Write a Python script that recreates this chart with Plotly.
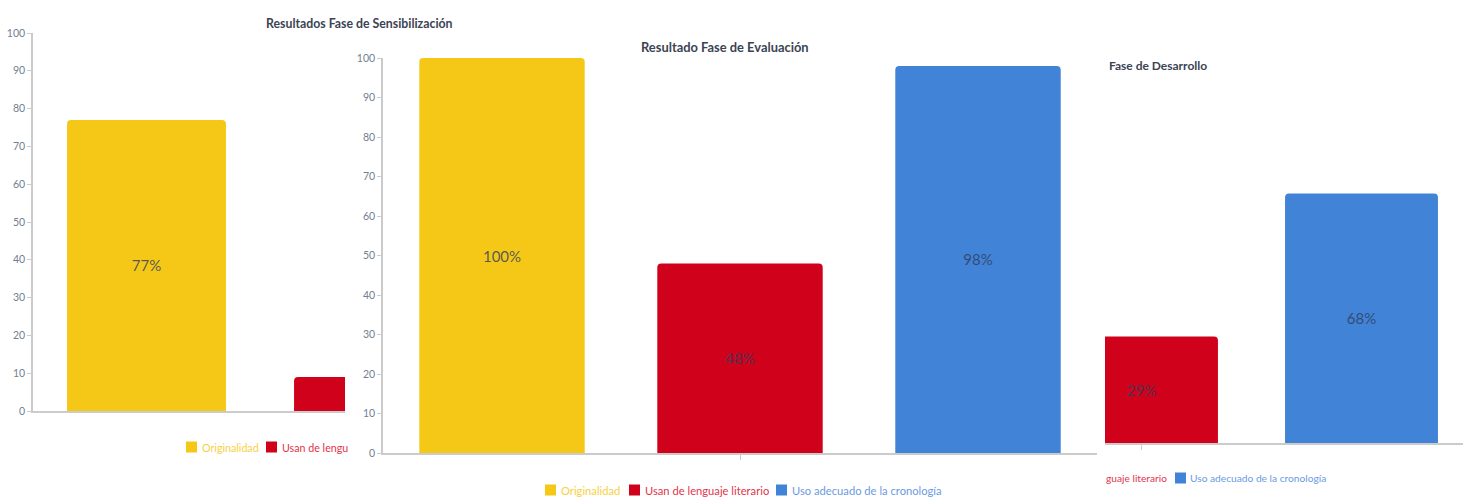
import plotly.graph_objects as go

W, H = 1463, 498

# ---- data -------------------------------------------------------------
categories = ["Originalidad", "Usan de lenguaje literario", "Uso adecuado de la cronología"]
colors = {"Originalidad": "#F5C817",
          "Usan de lenguaje literario": "#D0011B",
          "Uso adecuado de la cronología": "#4183D7"}
legend_text_colors = {"Originalidad": "#F7D043",
                      "Usan de lenguaje literario": "#E2354A",
                      "Uso adecuado de la cronología": "#6A9BE2"}

sens_cats = ["Originalidad", "Usan de lenguaje literario"]
sens_vals = [77, 9]
sens_labels = ["77%", ""]

eval_cats = ["Originalidad", "Usan de lenguaje literario", "Uso adecuado de la cronología"]
eval_vals = [100, 48, 98]
eval_labels = ["100%", "48%", "98%"]

des_cats = ["Usan de lenguaje literario", "Uso adecuado de la cronología"]
des_vals = [29, 68]
des_labels = ["29%", "68%"]

y_ticks = list(range(0, 101, 10))

titles = ["Resultados Fase de Sensibilización", "Resultado Fase de Evaluación", "Fase de Desarrollo"]


def fx(px):
    return px / W


def fy(py):
    return 1 - py / H


FONT = "Lato, 'Open Sans', sans-serif"
LABEL_COLOR = "rgba(50,62,92,0.82)"
AXIS_COLOR = "#cbcbcb"
TICK_FONT_COLOR = "#6f8093"

fig = go.Figure()


def add_bars(cats, vals, labels, xa, ya, width):
    fig.add_trace(go.Bar(
        x=cats, y=vals, text=labels,
        marker=dict(color=[colors[c] for c in cats], line=dict(width=0)),
        width=width,
        textposition="inside", insidetextanchor="middle", textangle=0,
        textfont=dict(family=FONT, size=15, color=LABEL_COLOR),
        xaxis=xa, yaxis=ya, showlegend=False, hoverinfo="skip",
        cliponaxis=True,
    ))


add_bars(sens_cats, sens_vals, sens_labels, "x", "y", 0.70)
add_bars(eval_cats, eval_vals, eval_labels, "x2", "y2", 0.695)
add_bars(des_cats, des_vals, des_labels, "x3", "y3", 0.695)

# panel geometry (pixels): left/right of visible plot, baseline, top (value 100), px per category
panels = {
    "1": dict(left=33, right=345, base=411, top=33, unit=227, x_at_left=-0.5),
    "2": dict(left=383, right=1097, base=453, top=58, unit=238, x_at_left=-0.5),
    "3": dict(left=1105, right=1463, base=443, top=76, unit=220, x_at_left=1 - (1141.5 - 1105) / 220),
}

layout_axes = {}
for key, p in panels.items():
    xname = "xaxis" if key == "1" else f"xaxis{key}"
    yname = "yaxis" if key == "1" else f"yaxis{key}"
    x_end = p["x_at_left"] + (p["right"] - p["left"]) / p["unit"]
    layout_axes[xname] = dict(
        domain=[fx(p["left"]), fx(p["right"])],
        type="category", categoryorder="array", categoryarray=categories,
        range=[p["x_at_left"], x_end],
        showline=True, linecolor=AXIS_COLOR, linewidth=1.5,
        showgrid=False, zeroline=False,
        tickmode="array", tickvals=[categories[1]], ticktext=[""],
        ticks="outside", ticklen=5, tickcolor=AXIS_COLOR, tickwidth=1,
        showticklabels=False, anchor=yname.replace("axis", ""),
        automargin=False, fixedrange=True,
    )
    show_y = key != "3"
    layout_axes[yname] = dict(
        domain=[fy(p["base"]), fy(p["top"])],
        range=[0, 100],
        showline=show_y, linecolor=AXIS_COLOR, linewidth=1.5,
        showgrid=False, zeroline=False,
        tickmode="array", tickvals=y_ticks,
        ticks="outside" if show_y else "", ticklen=4, tickcolor=AXIS_COLOR,
        showticklabels=show_y,
        tickfont=dict(family=FONT, size=10.5, color=TICK_FONT_COLOR),
        anchor=xname.replace("axis", ""),
        automargin=False, fixedrange=True,
    )

annotations = []
shapes = []

# chart titles: (x px, y px, anchor, font size)
title_pos = [(359, 23, "center", 12.3), (725, 47, "center", 12.9), (1107, 65, "left", 12)]
for text, (tx, ty, anchor, size) in zip(titles, title_pos):
    annotations.append(dict(
        text=text, x=fx(tx), y=fy(ty), xref="paper", yref="paper",
        xanchor=anchor, yanchor="middle", showarrow=False,
        font=dict(family=FONT, size=size, color="#3b4453", weight=700),
    ))

# legend rows: (square left px or None, text start px, text, series, y px, font size)
legend_items = [
    (186, 200, "Originalidad", "Originalidad", 447, 10.7),
    (266, 280, "Usan de lengu", "Usan de lenguaje literario", 447, 10.7),
    (545, 559, "Originalidad", "Originalidad", 490, 11.2),
    (629, 643, "Usan de lenguaje literario", "Usan de lenguaje literario", 490, 11.2),
    (776, 790, "Uso adecuado de la cronología", "Uso adecuado de la cronología", 490, 11.2),
    (None, 1104, "guaje literario", "Usan de lenguaje literario", 478, 10.2),
    (1175, 1188, "Uso adecuado de la cronología", "Uso adecuado de la cronología", 478, 10.2),
]
for sq, tx, text, series, ly, size in legend_items:
    if sq is not None:
        shapes.append(dict(
            type="rect", xref="paper", yref="paper",
            x0=fx(sq), x1=fx(sq + 11), y0=fy(ly + 5.5), y1=fy(ly - 5.5),
            fillcolor=colors[series], line=dict(width=0),
        ))
    annotations.append(dict(
        text=text, x=fx(tx), y=fy(ly), xref="paper", yref="paper",
        xanchor="left", yanchor="middle", showarrow=False,
        font=dict(family=FONT, size=size, color=legend_text_colors[series]),
    ))

fig.update_layout(
    width=W, height=H,
    margin=dict(l=0, r=0, t=0, b=0, pad=0, autoexpand=False),
    paper_bgcolor="white", plot_bgcolor="white",
    barcornerradius=4,
    showlegend=False,
    annotations=annotations,
    shapes=shapes,
    font=dict(family=FONT),
    **layout_axes,
)

fig.write_html("out.html", config={"displayModeBar": False})
